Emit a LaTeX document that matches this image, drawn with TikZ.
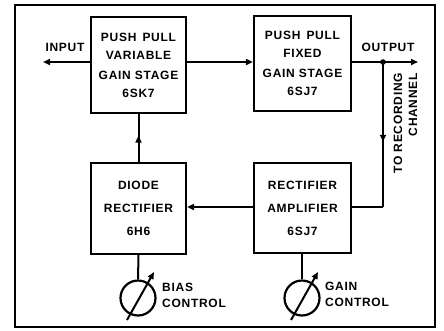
\documentclass[tikz,border=0pt]{standalone}
\usepackage{fontspec}
\setmainfont{Liberation Sans}[LetterSpace=6.0]
\usepackage{tikz}
\usetikzlibrary{positioning, arrows.meta, decorations.markings}

\begin{document}
\begin{tikzpicture}[
  x=1pt, y=-1pt,
  every node/.style={font=\bfseries\fontsize{12}{18}\selectfont, align=center, inner sep=0pt},
  stage/.style={draw, line width=2.2pt, rectangle},
  pot/.style={draw, line width=2.2pt, circle, minimum size=35pt},
  sig/.style={line width=2pt, -{Triangle[length=7pt,width=6pt]}},
  wire/.style={line width=2pt},
  midarrow/.style={line width=2pt, postaction={decorate},
    decoration={markings, mark=at position 0.55 with {\arrow{Triangle[length=7pt,width=6pt]}}}}
]
\useasboundingbox (0,0) rectangle (444,330);

% outer frame
\draw[line width=2.6pt] (15,5) rectangle (435,327);

% amplifier stages
\node[stage, minimum width=95pt, minimum height=96pt] (vga) at (138.5,65) {PUSH\, PULL\\VARIABLE\\[2pt]GAIN STAGE\\6SK7};
\node[stage, minimum width=97pt, minimum height=95pt] (fga) at (302.5,63.5) {PUSH\, PULL\\FIXED\\[2pt]GAIN STAGE\\6SJ7};
\node[stage, minimum width=95pt, minimum height=91pt] (diode) at (138.5,208.5) {DIODE\\[5pt]RECTIFIER\\[5pt]6H6};
\node[stage, minimum width=97pt, minimum height=90pt] (ramp) at (302.5,208) {RECTIFIER\\[5pt]AMPLIFIER\\[5pt]6SJ7};

% controls
\node[pot] (bias) at (138,298) {};
\node[pot] (gain) at (302,298) {};
\node[anchor=west, align=left, font=\bfseries\fontsize{12}{16}\selectfont] (biaslbl) at (162,295) {BIAS\\CONTROL};
\node[anchor=west, align=left, font=\bfseries\fontsize{12}{16}\selectfont] (gainlbl) at (325,294) {GAIN\\CONTROL};

% labels
\node (inlbl) at (65,47) {INPUT};
\node (outlbl) at (388,47) {OUTPUT};
\node[rotate=90, anchor=east, align=right, font=\bfseries\fontsize{12}{15}\selectfont] (reclbl) at (405.5,73) {TO RECORDING\\CHANNEL};

\coordinate (in) at (43,62);
\coordinate (out) at (418,62);
\coordinate (tap) at (383,62);
\coordinate (bend) at (383,207);

% connections
\draw[sig] (vga.west |- tap) -- (in);
\draw[sig] (vga.east |- tap) -- (fga.west |- tap);
\draw[sig] (fga.east |- tap) -- (out);
\fill (tap) circle (2.8pt);
\draw[midarrow] (tap) -- (bend);
\draw[wire] (bend) -- (ramp.east |- bend);
\draw[sig] (ramp.west |- bend) -- (diode.east |- bend);
\draw[midarrow] (diode.north) -- (vga.south);

\draw[wire] (diode.south) -- (bias.north);
\draw[wire] (ramp.south -| gain) -- (gain.north);
\draw[sig] ([shift={(-11,22)}]bias.center) -- ([shift={(16,-26)}]bias.center);
\draw[sig] ([shift={(-11,22)}]gain.center) -- ([shift={(16,-26)}]gain.center);

\end{tikzpicture}
\end{document}
